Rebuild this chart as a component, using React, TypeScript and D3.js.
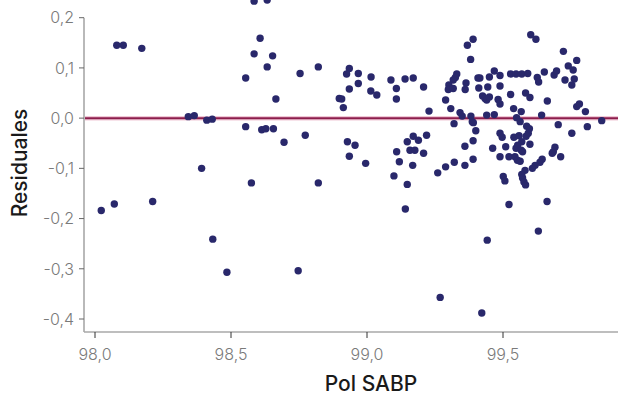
import { useRef, useEffect } from "react";
import * as d3 from "d3";

// Pol SABP (x) vs residual (y)
const POL_SABP: number[] = [
  98.023, 98.071, 98.080, 98.104, 98.172, 98.212, 98.343, 98.365, 98.392, 98.411,
  98.431, 98.433, 98.485, 98.554, 98.554, 98.575, 98.585, 98.633, 98.607, 98.585,
  98.653, 98.633, 98.665, 98.613, 98.628, 98.656, 98.695, 98.747, 98.754, 98.773,
  98.821, 98.821, 98.898, 98.907, 98.913, 98.935, 98.925, 98.935, 98.968, 98.968,
  99.015, 99.014, 99.036, 99.088, 99.108, 99.108, 99.140, 99.170, 99.208, 99.228,
  98.928, 98.956, 98.935, 98.995, 99.099, 99.148, 99.141, 99.109, 99.119, 99.168,
  99.148, 99.170, 99.189, 99.158, 99.176, 99.219, 99.208, 99.260, 99.289, 99.321,
  99.360, 99.390, 99.360, 99.390, 99.269, 99.422, 99.442, 99.289, 99.308, 99.342,
  99.350, 99.382, 99.387, 99.391, 99.320, 99.400, 99.330, 99.325, 99.317, 99.301,
  99.299, 99.317, 99.364, 99.361, 99.369, 99.390, 99.381, 99.408, 99.415, 99.411,
  99.444, 99.450, 99.468, 99.489, 99.489, 99.425, 99.434, 99.440, 99.450, 99.482,
  99.489, 99.440, 99.468, 99.528, 99.548, 99.569, 99.591, 99.528, 99.583, 99.599,
  99.539, 99.567, 99.550, 99.563, 99.602, 99.621, 99.626, 99.631, 99.652, 99.663,
  99.642, 99.688, 99.697, 99.722, 99.740, 99.758, 99.771, 99.728, 99.762, 99.753,
  99.771, 99.781, 99.803, 99.703, 99.810, 99.863, 99.753, 99.587, 99.597, 99.593,
  99.585, 99.489, 99.497, 99.540, 99.559, 99.569, 99.554, 99.548, 99.599, 99.510,
  99.462, 99.567, 99.572, 99.489, 99.522, 99.544, 99.553, 99.563, 99.691, 99.685,
  99.681, 99.712, 99.644, 99.636, 99.618, 99.608, 99.581, 99.569, 99.572, 99.577,
  99.583, 99.501, 99.507, 99.522, 99.662, 99.630,
];

const RESIDUALS: number[] = [
  -0.184, -0.171, 0.145, 0.145, 0.139, -0.166, 0.003, 0.005, -0.100, -0.004,
  -0.002, -0.241, -0.307, 0.080, -0.017, -0.129, 0.233, 0.235, 0.159, 0.128,
  0.124, 0.102, 0.038, -0.023, -0.021, -0.021, -0.048, -0.304, 0.089, -0.034,
  0.102, -0.129, 0.039, 0.038, 0.021, 0.099, 0.088, 0.058, 0.089, 0.069,
  0.082, 0.054, 0.046, 0.076, 0.059, 0.038, 0.078, 0.080, 0.062, 0.014,
  -0.047, -0.054, -0.076, -0.090, -0.115, -0.132, -0.181, -0.067, -0.087, -0.094,
  -0.047, -0.036, -0.044, -0.064, -0.064, -0.034, -0.070, -0.109, -0.097, -0.088,
  -0.094, -0.082, -0.056, -0.045, -0.357, -0.388, -0.243, 0.036, 0.019, 0.011,
  0.004, 0.004, -0.007, -0.009, -0.011, -0.025, 0.088, 0.081, 0.076, 0.066,
  0.057, 0.059, 0.070, 0.057, 0.145, 0.157, 0.117, 0.080, 0.080, 0.060,
  0.062, 0.082, 0.094, 0.085, 0.064, 0.044, 0.039, 0.036, 0.042, 0.037,
  0.028, 0.006, 0.007, 0.088, 0.088, 0.088, 0.089, 0.047, 0.050, 0.041,
  0.019, 0.013, 0.001, -0.007, 0.166, 0.157, 0.081, 0.072, 0.092, 0.034,
  0.006, 0.086, 0.094, 0.133, 0.104, 0.096, 0.115, 0.076, 0.078, 0.066,
  0.023, 0.028, 0.013, -0.013, -0.017, -0.005, -0.030, -0.016, -0.021, -0.030,
  -0.036, -0.030, -0.038, -0.038, -0.035, -0.047, -0.054, -0.060, -0.052, -0.057,
  -0.060, -0.064, -0.067, -0.077, -0.077, -0.077, -0.084, -0.086, -0.058, -0.067,
  -0.070, -0.077, -0.082, -0.088, -0.094, -0.100, -0.104, -0.112, -0.119, -0.127,
  -0.133, -0.116, -0.125, -0.172, -0.166, -0.225,
];

const X_TICKS = [98.0, 98.5, 99.0, 99.5];
const Y_TICKS = [0.2, 0.1, 0.0, -0.1, -0.2, -0.3, -0.4];

const DOT_COLOR = "#29286b";
const ZERO_COLOR = "#8c1d4c";
const AXIS_COLOR = "#a8a8a8";
const LABEL_COLOR = "#7a7a7a";
const TICK_FONT = "Inter, 'Liberation Sans', sans-serif";
const TITLE_FONT = "Inter, 'Liberation Sans', sans-serif";

// comma decimal, one digit: 0.2 -> "0,2"
const fmt = (v: number) => d3.format(".1f")(v).replace(".", ",").replace("−", "-");

export default function App() {
  const svgRef = useRef<SVGSVGElement>(null);

  useEffect(() => {
    if (!svgRef.current) return;
    const width = 618;
    const height = 397;

    const svg = d3.select(svgRef.current);
    svg.selectAll("*").remove();

    const left = 84;
    const bottom = 332;

    // ── Scales ────────────────────────────────────────
    const x = d3.scaleLinear().domain([98.0, 99.5]).range([95, 503]);
    const y = d3.scaleLinear().domain([0.2, -0.4]).range([17.7, 319]);

    // ── Axes lines ────────────────────────────────────
    svg.append("line")
      .attr("x1", left).attr("x2", left)
      .attr("y1", y(0.2)).attr("y2", bottom)
      .attr("stroke", AXIS_COLOR).attr("stroke-width", 1.6);
    svg.append("line")
      .attr("x1", left).attr("x2", width)
      .attr("y1", bottom).attr("y2", bottom)
      .attr("stroke", AXIS_COLOR).attr("stroke-width", 1.6);

    // y ticks + labels
    Y_TICKS.forEach((t) => {
      svg.append("line")
        .attr("x1", left - 5).attr("x2", left)
        .attr("y1", y(t)).attr("y2", y(t))
        .attr("stroke", "#666").attr("stroke-width", 1);
      svg.append("text")
        .attr("x", 74)
        .attr("y", y(t))
        .attr("dy", "0.36em")
        .attr("text-anchor", "end")
        .attr("font-family", TICK_FONT)
        .attr("font-weight", 300)
        .attr("font-size", 16)
        .attr("fill", LABEL_COLOR)
        .text(fmt(t));
    });

    // x ticks + labels
    X_TICKS.forEach((t) => {
      svg.append("line")
        .attr("x1", x(t)).attr("x2", x(t))
        .attr("y1", bottom).attr("y2", bottom + 6)
        .attr("stroke", "#333").attr("stroke-width", 1);
      svg.append("text")
        .attr("x", x(t))
        .attr("y", 360)
        .attr("text-anchor", "middle")
        .attr("font-family", TICK_FONT)
        .attr("font-weight", 300)
        .attr("font-size", 16)
        .attr("fill", LABEL_COLOR)
        .text(fmt(t));
    });

    // ── Zero line ─────────────────────────────────────
    svg.append("line")
      .attr("x1", left + 1).attr("x2", width)
      .attr("y1", y(0)).attr("y2", y(0))
      .attr("stroke", "#f0c8d6").attr("stroke-width", 4.5);
    svg.append("line")
      .attr("x1", left + 1).attr("x2", width)
      .attr("y1", y(0)).attr("y2", y(0))
      .attr("stroke", ZERO_COLOR).attr("stroke-width", 2);

    // ── Points ────────────────────────────────────────
    svg.append("g")
      .selectAll("circle")
      .data(POL_SABP.map((v, i) => [v, RESIDUALS[i]]))
      .join("circle")
      .attr("cx", (d) => x(d[0]))
      .attr("cy", (d) => y(d[1]))
      .attr("r", 3.7)
      .attr("fill", DOT_COLOR);

    // ── Axis titles ───────────────────────────────────
    svg.append("text")
      .attr("transform", `translate(27,163) rotate(-90)`)
      .attr("text-anchor", "middle")
      .attr("font-family", TITLE_FONT)
      .attr("font-weight", 500)
      .attr("font-size", 21)
      .attr("fill", "#1a1a1a")
      .text("Residuales");

    svg.append("text")
      .attr("x", 371)
      .attr("y", 391)
      .attr("text-anchor", "middle")
      .attr("font-family", TITLE_FONT)
      .attr("font-weight", 500)
      .attr("font-size", 21)
      .attr("fill", "#1a1a1a")
      .text("Pol SABP");

    svg.attr("width", width).attr("height", height);
  }, []);

  return (
    <div style={{ position: "absolute", left: 0, top: 0, background: "#fff" }}>
      <svg ref={svgRef} width={618} height={397} style={{ display: "block" }} />
    </div>
  );
}
